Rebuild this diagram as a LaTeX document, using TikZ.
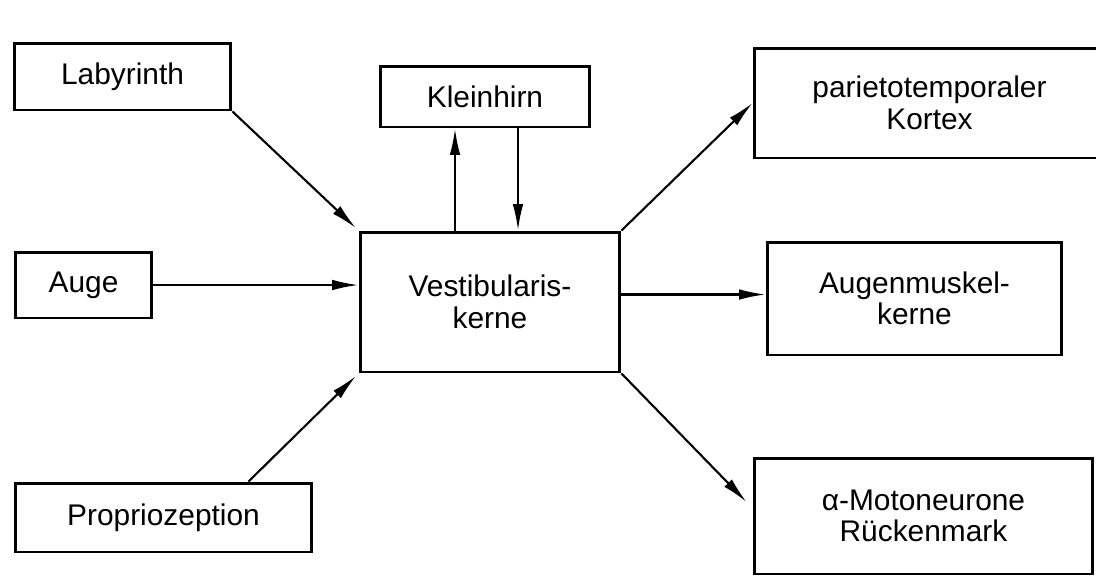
\documentclass[tikz,border=0pt]{standalone}
\usepackage{fontspec}
\setmainfont{Liberation Sans}
\usetikzlibrary{arrows.meta,calc,positioning}

\begin{document}
\begin{tikzpicture}[x=0.02cm,y=-0.02cm,
every node/.style={draw,line width=1.7pt,align=center,inner sep=0pt,
  font=\fontsize{17}{18}\selectfont},
pfeil/.style={line width=1.2pt,-{Latex[length=15pt,width=6pt]}}]
\useasboundingbox (0,0) rectangle (1096,586);

% linke Seite
\node[minimum width=4.34cm,minimum height=1.34cm] (lab) at (122.5,76.5) {Labyrinth};
\node[minimum width=2.74cm,minimum height=1.32cm] (auge) at (83.5,285) {Auge};
\node[minimum width=5.94cm,minimum height=1.38cm] (prop) at (163.5,517.5) {Propriozeption};

% Mitte
\node[minimum width=4.2cm,minimum height=1.22cm] (klein) at (485,96.5) {Kleinhirn};
\node[minimum width=5.2cm,minimum height=2.8cm] (vest) at (490,302) {Vestibularis-\\kerne};

% rechte Seite
\node[minimum width=7.02cm,minimum height=2.2cm] (pariet) at (929.5,103) {parietotemporaler\\Kortex};
\node[minimum width=5.9cm,minimum height=2.26cm] (augm) at (914.5,298.5) {Augenmuskel-\\kerne};
\node[minimum width=6.78cm,minimum height=2.32cm] (moto) at (923.5,516) {α-Motoneurone\\Rückenmark};

\draw[pfeil,shorten >=2pt] (lab.south east)--(vest.north west);
\draw[pfeil] (auge.east)--(auge.east -| vest.west);
\draw[pfeil,shorten >=2pt] ([xshift=1.7cm]prop.north)--(vest.south west);

\draw[pfeil] ([xshift=-0.7cm]vest.north)--([xshift=-0.7cm]vest.north |- klein.south);
\draw[pfeil] ([xshift=0.56cm]vest.north |- klein.south)--([xshift=0.56cm]vest.north);

\draw[pfeil] (vest.north east)--(pariet.west);
\draw[pfeil] ([yshift=0.08cm]augm.west -| vest.east)--([yshift=0.08cm]augm.west);
\draw[pfeil] (vest.south east)--([xshift=-0.12cm,yshift=0.28cm]moto.west);

\end{tikzpicture}
\end{document}
